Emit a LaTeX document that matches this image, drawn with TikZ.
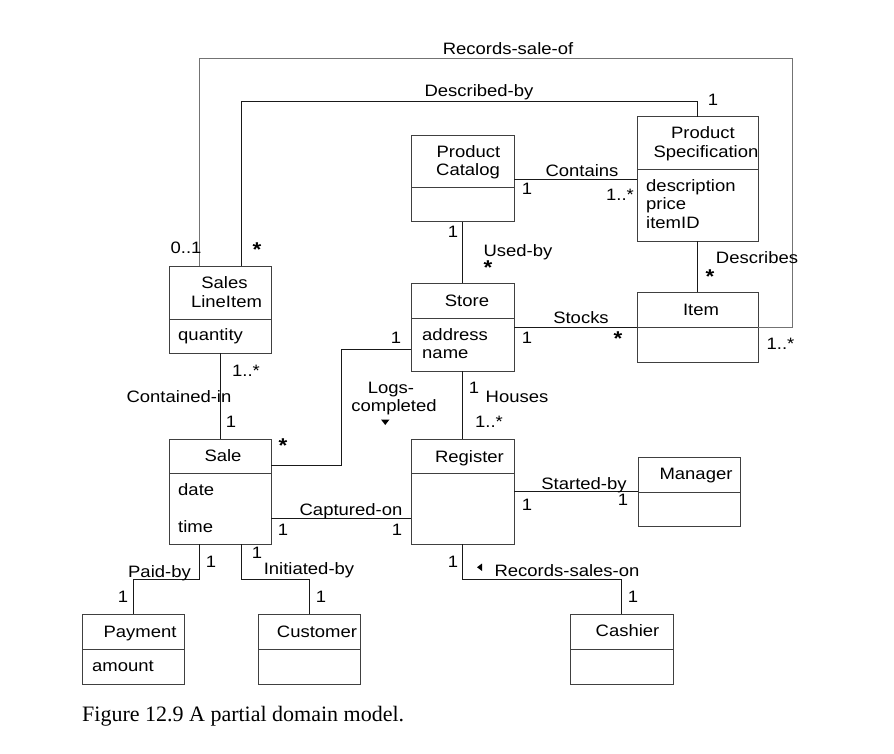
\documentclass[tikz,border=0pt]{standalone}
\usepackage{fontspec}
\setmainfont{Liberation Sans}[FakeStretch=1.12]
\newfontfamily\captionserif{Liberation Serif}
\tikzset{
    classbox/.style={draw=black!75, line width=1pt, anchor=north west, inner sep=0pt, outer sep=0pt},
    lbl/.style={anchor=base, inner sep=0pt, font=\fontsize{16.5}{19}\selectfont},
    attr/.style={lbl, anchor=base west},
    mstar/.style={inner sep=0pt, font=\bfseries\fontsize{20}{20}\selectfont},
    assoc/.style={line width=0.9pt, draw=black!90},
}
\newcommand\ClassBox[6]{%
    \node[classbox, minimum width=#4pt, minimum height=#5pt] (#1) at (#2,#3) {};
    \draw[draw=black!75, line width=1pt] ([yshift=-#6pt]#1.north west) -- ([yshift=-#6pt]#1.north east);
}

\begin{document}
\begin{tikzpicture}[x=1pt, y=-1pt]
    \fill[white] (0,0) rectangle (894,754);
    \useasboundingbox (0,0) rectangle (894,754);

    % classes
    \ClassBox{catalog}{411}{136}{103}{86}{52}
    \ClassBox{spec}{637}{117}{121}{124}{53}
    \ClassBox{sli}{169}{266}{102}{87}{53}
    \ClassBox{store}{411}{283}{103}{88}{35}
    \ClassBox{item}{637}{292}{121}{70}{35}
    \ClassBox{sale}{169}{439}{102}{105}{34}
    \ClassBox{register}{411}{439}{103}{105}{34}
    \ClassBox{manager}{638}{457}{102}{69}{35}
    \ClassBox{payment}{82}{614}{102}{70}{35}
    \ClassBox{customer}{258}{614}{102}{70}{35}
    \ClassBox{cashier}{570}{614}{103}{70}{35}

    \node[lbl] (catalogTitleA) at (468.5,158) {Product};
    \node[lbl] (catalogTitleB) at (468,176) {Catalog};
    \node[lbl] (specTitleA) at (703,139) {Product};
    \node[lbl] (specTitleB) at (706,158) {Specification};
    \node[attr] (specDescription) at (646,192) {description};
    \node[attr] (specPrice) at (646,210) {price};
    \node[attr] (specItemID) at (646,229) {itemID};
    \node[lbl] (storeTitle) at (467,306) {Store};
    \node[attr] (storeAddress) at (422,340) {address};
    \node[attr] (storeName) at (422,358) {name};
    \node[lbl] (itemTitle) at (701,315) {Item};
    \node[lbl] (sliTitleA) at (224.5,288) {Sales};
    \node[lbl] (sliTitleB) at (226.5,307) {LineItem};
    \node[attr] (sliQuantity) at (178,340) {quantity};
    \node[lbl] (saleTitle) at (223,461) {Sale};
    \node[attr] (saleDate) at (178,495) {date};
    \node[attr] (saleTime) at (178,532) {time};
    \node[lbl] (registerTitle) at (469.5,462) {Register};
    \node[lbl] (managerTitle) at (696,479) {Manager};
    \node[lbl] (paymentTitle) at (140,637) {Payment};
    \node[attr] (paymentAmount) at (92,671) {amount};
    \node[lbl] (customerTitle) at (317,637) {Customer};
    \node[lbl] (cashierTitle) at (627.5,636) {Cashier};

    % Records-sale-of
    \coordinate (rsoCorner) at (792,58);
    \draw[assoc, draw=black!55] ([xshift=-21pt]sli.north) |- (rsoCorner) |- (item.east);
    \node[lbl] (lblRecordsSaleOf) at (508,55) {Records-sale-of};
    \node[lbl] (mulSliRso) at (186,254) {0..1};
    \node[lbl] (mulItemRso) at (780.5,349) {1..*};

    % Described-by
    \draw[assoc] ([xshift=21pt]sli.north) |- ([yshift=16pt]spec.north) -- (spec.north);
    \node[lbl] (lblDescribedBy) at (479,97) {Described-by};
    \node[lbl] (mulSpecDb) at (713,106) {1};
    \node[mstar] (mulSliDb) at (257,250) {*};

    % Contains
    \draw[assoc] (catalog.east |- spec.west) -- (spec.west);
    \node[lbl] (lblContains) at (582,177) {Contains};
    \node[lbl] (mulCatalogCt) at (527,195) {1};
    \node[lbl] (mulSpecCt) at (620,201) {1..*};

    % Used-by
    \draw[assoc] (catalog.south) -- (store.north);
    \node[lbl] (lblUsedBy) at (518,256) {Used-by};
    \node[lbl] (mulCatalogUb) at (453,237) {1};
    \node[mstar] (mulStoreUb) at (488,268) {*};

    % Describes
    \draw[assoc] (spec.south) -- (item.north);
    \node[lbl] (lblDescribes) at (757,263) {Describes};
    \node[mstar] (mulItemDs) at (710,277) {*};

    % Stocks
    \draw[assoc] (store.east |- item.west) -- (item.west);
    \node[lbl] (lblStocks) at (581,323) {Stocks};
    \node[lbl] (mulStoreSk) at (527,343) {1};
    \node[mstar] (mulItemSk) at (618,339) {*};

    % Logs-completed
    \coordinate (logsKnee) at (341,465);
    \draw[assoc] ([yshift=-22pt]store.west) -| (logsKnee) -- (logsKnee -| sale.east);
    \node[lbl] (lblLogsA) at (391,393) {Logs-};
    \node[lbl] (lblLogsB) at (394,411) {completed};
    \fill (381,419.5) -- (389.5,419.5) -- (385.25,425) -- cycle;
    \node[lbl] (mulStoreLc) at (396,343) {1};
    \node[mstar] (mulSaleLc) at (283,446) {*};

    % Contained-in
    \draw[assoc] (sli.south) -- (sale.north);
    \node[lbl] (lblContainedIn) at (179,402) {Contained-in};
    \node[lbl] (mulSliCi) at (246,376) {1..*};
    \node[lbl] (mulSaleCi) at (231,427) {1};

    % Houses
    \draw[assoc] (store.south) -- (register.north);
    \node[lbl] (lblHouses) at (517,402) {Houses};
    \node[lbl] (mulStoreHs) at (474,393) {1};
    \node[lbl] (mulRegisterHs) at (489,427) {1..*};

    % Captured-on
    \draw[assoc] ([yshift=-26.5pt]sale.east) -- ([yshift=-26.5pt]register.west);
    \node[lbl] (lblCapturedOn) at (351,515) {Captured-on};
    \node[lbl] (mulSaleCo) at (283,535) {1};
    \node[lbl] (mulRegisterCo) at (397,535) {1};

    % Started-by
    \draw[assoc] (register.east |- manager.west) -- (manager.west);
    \node[lbl] (lblStartedBy) at (584,489) {Started-by};
    \node[lbl] (mulRegisterSb) at (527,510) {1};
    \node[lbl] (mulManagerSb) at (623,505) {1};

    % Paid-by
    \draw[assoc] ([xshift=-21pt]sale.south) -- ++(0,35) -| (payment.north);
    \node[lbl] (lblPaidBy) at (159.5,577) {Paid-by};
    \node[lbl] (mulSalePb) at (211,567) {1};
    \node[lbl] (mulPaymentPb) at (123,602) {1};

    % Initiated-by
    \draw[assoc] ([xshift=21pt]sale.south) -- ++(0,35) -| (customer.north);
    \node[lbl] (lblInitiatedBy) at (309,574) {Initiated-by};
    \node[lbl] (mulSaleIb) at (257,558) {1};
    \node[lbl] (mulCustomerIb) at (321,602) {1};

    % Records-sales-on
    \draw[assoc] (register.south) -- ++(0,35) -| (cashier.north);
    \fill (482,563.5) -- (482,571) -- (477,567.25) -- cycle;
    \node[lbl] (lblRecordsSalesOn) at (567,576) {Records-sales-on};
    \node[lbl] (mulRegisterRs) at (453,567) {1};
    \node[lbl] (mulCashierRs) at (633,602) {1};

    \node[anchor=base west, inner sep=0pt, font=\captionserif\fontsize{22}{24}\selectfont] (caption) at (82,721) {Figure 12.9 A partial domain model.};
\end{tikzpicture}
\end{document}
